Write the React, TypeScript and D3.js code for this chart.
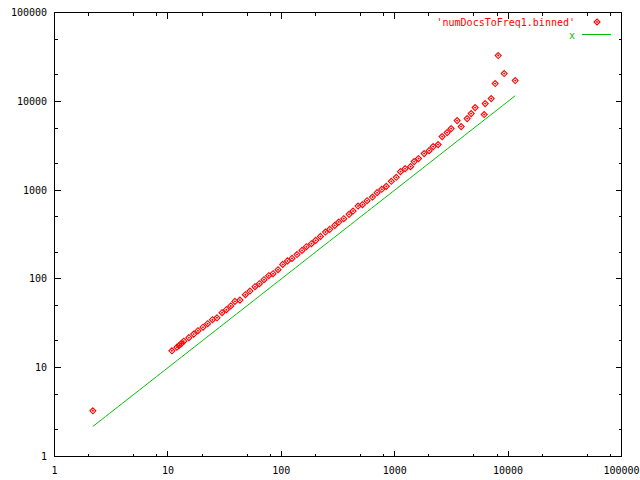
import React from "react";
import * as d3 from "d3";

const seriesLabel = "'numDocsToFreq1.binned'";
const lineLabel = "x";

// binned data: x (bin) and y (frequency)
const xValues = [
  2.18, 10.85, 12.0, 12.6, 13.2, 13.8, 15.3, 16.9, 18.4, 20.4, 22.4, 24.7, 27.1, 30.0, 32.8, 35.8,
  39.0, 43.2, 48.2, 52.9, 58.6, 64.1, 70.4, 77.4, 84.5, 93.5, 102.9, 113.2, 124.3, 137.6,
  152.3, 166.5, 184.4, 201.2, 221.4, 245.1, 267.4, 296, 321, 355.5, 395.9, 429.5, 475.3,
  519.6, 570.7, 637.1, 699.4, 769.2, 843.3, 933.3, 1033, 1125, 1235, 1379, 1484, 1622,
  1818, 2012, 2183, 2415, 2620, 2901, 3147, 3554, 3856, 4355, 4725, 5124, 6153, 6279,
  7093, 7692, 8177, 9238, 11551,
];
const yValues = [
  3.27, 15.5, 17.0, 17.9, 18.8, 19.9, 21.8, 23.9, 26.1, 28.6, 31.3, 34.7, 36.5, 41.6, 45.0, 49.6,
  55.8, 57.7, 66.4, 72.9, 81.7, 88.3, 97.9, 108.7, 114.4, 127, 145.7, 159.5, 170.2, 187.8,
  209.5, 230.6, 249.3, 271.6, 301.2, 336.8, 361.2, 400.6, 436.5, 476.9, 533.2, 580.7, 661.2,
  685.7, 760.5, 835.2, 936.1, 1020, 1102, 1255, 1392, 1614, 1745, 1837, 2093, 2262,
  2575, 2783, 3088, 3252, 4003, 4440, 4925, 6060, 5188, 6383, 7267, 8492, 7084, 9419,
  10725, 15826, 32731, 20517, 17112,
];
const majorTicks = [1, 10, 100, 1000, 10000, 100000];
const tickLabels = ["1", "10", "100", "1000", "10000", "100000"];
const xMinorMultipliers = [2, 5, 8];
const yMinorMultipliers = [2, 5];

const W = 640;
const H = 480;
const FONT = "'DejaVu Sans Mono', 'Liberation Mono', monospace";

export default function App() {
  const x = d3.scaleLog().domain([1, 1e5]).range([54.5, 621.5]);
  const y = d3.scaleLog().domain([1, 1e5]).range([456.5, 12.5]);
  const x0 = x(1), x1 = x(1e5), y0 = y(1), y1 = y(1e5);

  const xMinor: number[] = [];
  const yMinor: number[] = [];
  for (let d = 1; d < 1e5; d *= 10) {
    xMinorMultipliers.forEach((m) => xMinor.push(d * m));
    yMinorMultipliers.forEach((m) => yMinor.push(d * m));
  }

  const pts = xValues.map((xv, i) => ({ x: xv, y: yValues[i] }));
  const lx0 = Math.log10(d3.min(xValues) as number);
  const lx1 = Math.log10(d3.max(xValues) as number);
  const lineData = d3.range(0, 101).map((i) => {
    const v = Math.pow(10, lx0 + ((lx1 - lx0) * i) / 100);
    return [v, v] as [number, number];
  });
  const line = d3
    .line<[number, number]>()
    .x((d) => x(d[0]))
    .y((d) => y(d[1]));

  const diamond = (cx: number, cy: number, r: number) =>
    `M${cx},${cy - r}L${cx + r},${cy}L${cx},${cy + r}L${cx - r},${cy}Z`;

  const Marker = ({ cx, cy }: { cx: number; cy: number }) => (
    <g>
      <path d={diamond(cx, cy, 3)} fill="none" stroke="#ff0000" strokeWidth={1.1} />
      <path d={diamond(cx, cy, 1.2)} fill="#ff0000" stroke="none" />
    </g>
  );

  const MAJ = 6, MIN = 3;

  return (
    <svg width={W} height={H} style={{ display: "block", position: "absolute", left: 0, top: 0, background: "#fff" }}>
      <rect x={0} y={0} width={W} height={H} fill="#fff" />
      <g stroke="#000" strokeWidth={1} shapeRendering="crispEdges">
        {majorTicks.map((t) => (
          <g key={"mx" + t}>
            <line x1={x(t)} x2={x(t)} y1={y0} y2={y0 - MAJ} />
            <line x1={x(t)} x2={x(t)} y1={y1} y2={y1 + MAJ} />
            <line x1={x0} x2={x0 + MAJ} y1={y(t)} y2={y(t)} />
            <line x1={x1} x2={x1 - MAJ} y1={y(t)} y2={y(t)} />
          </g>
        ))}
        {xMinor.map((t) => (
          <g key={"nx" + t}>
            <line x1={x(t)} x2={x(t)} y1={y0} y2={y0 - MIN} />
            <line x1={x(t)} x2={x(t)} y1={y1} y2={y1 + MIN} />
          </g>
        ))}
        {yMinor.map((t) => (
          <g key={"ny" + t}>
            <line x1={x0} x2={x0 + MIN} y1={y(t)} y2={y(t)} />
            <line x1={x1} x2={x1 - MIN} y1={y(t)} y2={y(t)} />
          </g>
        ))}
        <rect x={x0} y={y1} width={x1 - x0} height={y0 - y1} fill="none" />
      </g>
      <g fontFamily={FONT} fontSize={10} fill="#000">
        {majorTicks.map((t, i) => (
          <text key={"yl" + t} x={47} y={y(t)} textAnchor="end" dominantBaseline="central">
            {tickLabels[i]}
          </text>
        ))}
        {majorTicks.map((t, i) => (
          <text key={"xl" + t} x={x(t)} y={470} textAnchor="middle" dominantBaseline="central">
            {tickLabels[i]}
          </text>
        ))}
      </g>
      <path d={line(lineData) || ""} fill="none" stroke="#00c000" strokeWidth={1} />
      {pts.map((p, i) => (
        <Marker key={i} cx={x(p.x)} cy={y(p.y)} />
      ))}
      <g fontFamily={FONT} fontSize={10}>
        <text x={575} y={22} textAnchor="end" dominantBaseline="central" fill="#ff0000">
          {seriesLabel}
        </text>
        <Marker cx={597} cy={22} />
        <text x={575} y={35} textAnchor="end" dominantBaseline="central" fill="#00c000">
          {lineLabel}
        </text>
        <line x1={582} x2={611} y1={34.5} y2={34.5} stroke="#00c000" strokeWidth={1} />
      </g>
    </svg>
  );
}
